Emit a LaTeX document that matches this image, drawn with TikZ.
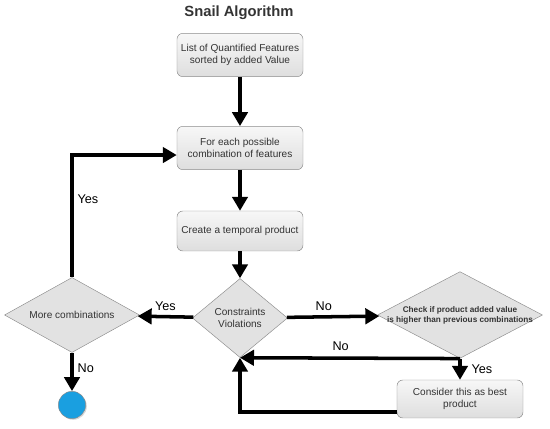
\documentclass[tikz,border=0pt]{standalone}
\usepackage{fontspec}
\setmainfont{Liberation Sans}
\usepackage{tikz}
\usetikzlibrary{arrows.meta,positioning,calc,shapes.geometric,shadows}
\usepackage{xcolor}
\definecolor{snailline}{HTML}{8C8C8C}
\definecolor{snailtop}{HTML}{F7F7F7}
\definecolor{snailbottom}{HTML}{DEDEDE}
\definecolor{snaildiamond}{HTML}{E2E2E2}
\definecolor{snailtext}{HTML}{333333}
\definecolor{snailblue}{HTML}{1A9FE0}
\tikzset{
  procbox/.style={
    rounded corners=5pt,
    draw=snailline,
    top color=snailtop,
    bottom color=snailbottom,
    thin,
    minimum width=3.78cm,
    minimum height=1.3cm,
    align=center,
    text=snailtext,
    font=\fontsize{8.6}{10.4}\selectfont
  },
  decision/.style={
    diamond,
    draw=snailline,
    fill=snaildiamond,
    thin,
    inner sep=0pt
  },
  decisiontext/.style={
    align=center,
    text=snailtext,
    font=\fontsize{8.6}{10.4}\selectfont
  },
  flowarrow/.style={
    -{Triangle[length=4.2mm,width=4.6mm]},
    line width=3pt,
    draw=black
  },
  answer/.style={
    font=\fontsize{10.8}{12}\selectfont,
    text=black
  }
}

\begin{document}
\begin{tikzpicture}[x=0.03cm, y=-0.03cm]
\useasboundingbox (0,0) rectangle (550,429);
\node[font=\bfseries\fontsize{12.6}{14}\selectfont, text=snailtext] (title) at (239,13) {Snail Algorithm};
\node[procbox] (list) at (240,55) {List of Quantified Features\\sorted by added Value};
\node[procbox] (combo) at (240,148) {For each possible\\combination of features};
\node[procbox, minimum height=1.2cm] (temp) at (240,231) {Create a temporal product};
\node[decision, minimum width=2.85cm, minimum height=2.37cm,
  label={[decisiontext]center:Constraints\\Violations}] (cv) at (240,318) {};
\node[decision, minimum width=4.95cm, minimum height=2.6cm,
  label={[decisiontext, font=\bfseries\fontsize{7}{8.6}\selectfont]center:Check if product added value\\is higher than previous combinations}] (check) at (460,315) {};
\node[procbox, minimum height=1.14cm] (best) at (460,399) {Consider this as best\\product};
\node[decision, minimum width=4.05cm, minimum height=2.25cm,
  label={[decisiontext]center:More combinations}] (more) at (72,315) {};
\node[circle, draw=snailline, fill=snailblue, minimum size=0.82cm,
  drop shadow={opacity=0.3,shadow xshift=1pt,shadow yshift=-1pt}] (stop) at (72,405) {};
\draw[flowarrow] (list) -- (combo);
\draw[flowarrow] (combo) -- (temp);
\draw[flowarrow] (temp) -- (cv);
\draw[flowarrow] (cv) -- node[answer, above] {Yes} (more);
\draw[flowarrow] (cv) -- node[answer, above, xshift=-8pt] {No} (check);
\draw[flowarrow] (check.south) -- node[answer, right=5pt] {Yes} (best);
\draw[flowarrow] (check.south) -- node[answer, above=2pt, xshift=-8pt] {No} (cv.south);
\draw[flowarrow] ([yshift=-11pt]best.west) -| (cv.south);
\draw[flowarrow] (more.north) |- node[answer, right, pos=0.32] {Yes} ([yshift=-6pt]combo.west);
\draw[flowarrow] (more) -- node[answer, right, pos=0.4] {No} (stop);
\end{tikzpicture}
\end{document}
